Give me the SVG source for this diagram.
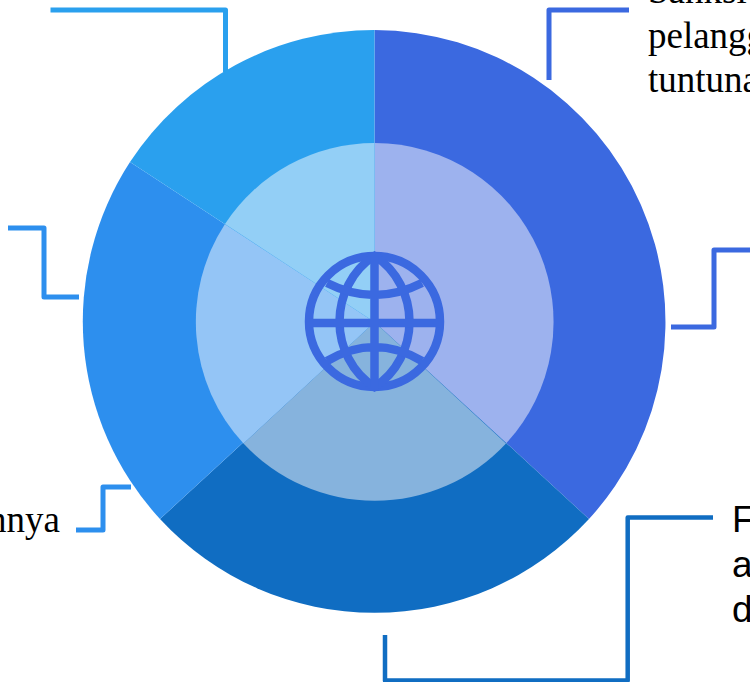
<svg xmlns="http://www.w3.org/2000/svg" width="750" height="682" viewBox="0 0 750 682">
<style>
.c{fill:none;stroke-width:5;stroke-linejoin:round}
.s{font-family:"Liberation Serif",serif;font-size:37px;fill:#000}
.a{font-family:"Liberation Sans",sans-serif;font-size:37px;fill:#000}
.g{fill:none;stroke:#3B69E0;stroke-width:8.500}
</style>
<rect width="750" height="682" fill="#fff"/>
<g id="connectors">
<path class="c" stroke="#2AA0EE" d="M50.500 10H225.500V72"/>
<path class="c" stroke="#2D8FEE" d="M8 228H44V297H79"/>
<path class="c" stroke="#2D8FEE" d="M76 530H103V487H131"/>
<path class="c" stroke="#3B69E0" d="M629 10H549V80"/>
<path class="c" stroke="#3B69E0" d="M750 250H714V327H671"/>
<path class="c" style="stroke-width:4.500" stroke="#106DC2" d="M385 635V680.500H627.700V517.500H713"/>
</g>
<g id="seg-right"><path fill="#3B69E0" d="M374.500 322V30A292 292 0 0 1 589 519L374.500 322Z"/><path fill="#9DB2EE" d="M374.500 322V143A179 179 0 0 1 506 443.500Z"/></g>
<g id="seg-bottom"><path fill="#106DC2" d="M374.500 322L589 519A292 292 0 0 1 160 519Z"/><path fill="#86B3DD" d="M374.500 322L506 443.500A179 179 0 0 1 243.500 443.500Z"/></g>
<g id="seg-left"><path fill="#2D8FEE" d="M374.500 322L160 519A292 292 0 0 1 130 162Z"/><path fill="#94C5F6" d="M374.500 322L243.500 443.500A179 179 0 0 1 225 224Z"/></g>
<g id="seg-top"><path fill="#2AA0EE" d="M374.500 322L130 162A292 292 0 0 1 374.500 30Z"/><path fill="#93CFF6" d="M374.500 322L225 224A179 179 0 0 1 374.500 143Z"/></g>
<g id="globe">
<circle class="g" cx="374.500" cy="321.500" r="65.500"/>
<path class="g" d="M374.500 256C352 270 339.500 296 339.500 321.500C339.500 347 352 373 374.500 387C397 373 409.500 347 409.500 321.500C409.500 296 397 270 374.500 256Z"/>
<path class="g" d="M374.500 256V387M309 323H440M327 283Q374.500 307 422 283M327 361Q374.500 333 422 361"/>
</g>
<g id="labels">
<text class="s" x="648" y="3">Sanksi</text>
<text class="s" x="648" y="47.500">pelangg</text>
<text class="s" x="648" y="92">tuntuna</text>
<text class="s" x="60" y="532" text-anchor="end">nnya</text>
<text class="a" x="732" y="532">F</text>
<text class="a" x="732" y="577">a</text>
<text class="a" x="732" y="622">d</text>
</g>
</svg>
